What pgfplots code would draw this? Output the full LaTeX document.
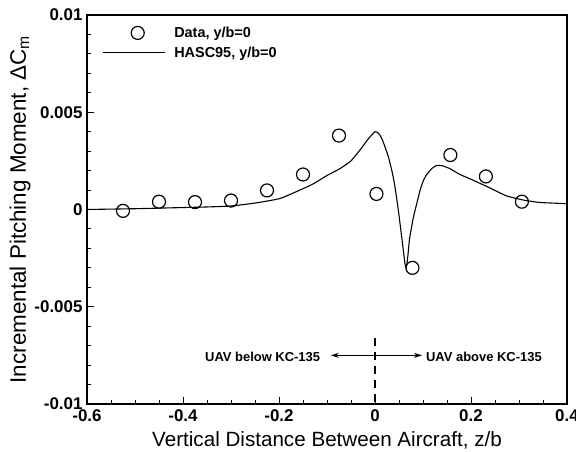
\documentclass[border=0pt]{standalone}
\usepackage{pgfplots}
\pgfplotsset{compat=1.18}
\usetikzlibrary{arrows.meta}
\usepackage{fontspec}
\setmainfont{Liberation Sans}
\begin{document}
\begin{tikzpicture}[x=1bp,y=1bp]
\useasboundingbox (0,0) rectangle (576,452);
\begin{axis}[
  at={(87bp,48bp)}, anchor=south west,
  scale only axis, width=480bp, height=389bp,
  xmin=-0.6, xmax=0.4, ymin=-0.01, ymax=0.01,
  xtick={-0.6,-0.4,-0.2,0,0.2,0.4},
  ytick={-0.01,-0.005,0,0.005,0.01},
  minor x tick num=3, minor y tick num=4,
  xtick pos=bottom, ytick pos=left,
  tick align=inside,
  major tick length=7bp, minor tick length=4bp,
  every tick/.style={black, line width=1pt},
  axis line style={line width=1.6pt},
  scaled y ticks=false, scaled x ticks=false,
  /pgf/number format/assume math mode=true,
  /pgf/number format/fixed, /pgf/number format/precision=3,
  tick label style={font=\bfseries\fontsize{17}{17}\selectfont},
  xticklabel style={yshift=-2bp},
  yticklabel style={xshift=-1bp},
  xlabel={Vertical Distance Between Aircraft, z/b},
  ylabel={Incremental Pitching Moment, ΔC\textsubscript{m}},
  xlabel style={font=\fontsize{20.7}{20.7}\selectfont, yshift=-3bp},
  ylabel style={font=\fontsize{22.5}{22.5}\selectfont, yshift=-3bp},
  legend style={draw=none, fill=none, at={(axis cs:-0.575,0.0096)}, anchor=north west,
    font=\bfseries\fontsize{14.5}{14.5}\selectfont, row sep=4bp,
    nodes={inner xsep=9bp}},
  legend cell align=left,
  legend image code/.code={\draw[mark repeat=2, mark phase=2, #1] plot coordinates {(0bp,0bp)(35bp,0bp)(62bp,0bp)};},
]
\addplot[only marks, mark=o, mark size=6.5bp, mark options={line width=1.2pt, black}] coordinates {
(-0.525,-0.00007) (-0.45,0.0004) (-0.375,0.00038) (-0.3,0.00046)
(-0.225,0.00098) (-0.15,0.0018) (-0.075,0.0038) (0.003,0.0008)
(0.078,-0.003) (0.157,0.0028) (0.231,0.0017) (0.306,0.0004)
};
\addlegendentry{Data, y/b=0}
\addplot[black, line width=1.1pt, smooth, tension=0.3] coordinates {
(-0.6,0.0) (-0.5,0.00004) (-0.45,0.00007) (-0.4,0.0001) (-0.35,0.00013)
(-0.3,0.00018) (-0.25,0.00033) (-0.2,0.00055) (-0.17,0.00085) (-0.13,0.0013)
(-0.1,0.00175) (-0.073,0.0021) (-0.05,0.0025) (-0.03,0.0031) (-0.015,0.0036)
(0.0,0.0040) (0.008,0.0039) (0.015,0.0036) (0.021,0.0032) (0.028,0.0027)
(0.035,0.0020) (0.04,0.0014) (0.045,0.0006) (0.05,-0.0003) (0.053,-0.0009)
(0.058,-0.0019) (0.0625,-0.0028) (0.065,-0.0030) (0.068,-0.0025) (0.072,-0.0015)
(0.08,-0.0004) (0.087,0.0003) (0.094,0.0010) (0.101,0.0015) (0.108,0.0018)
(0.118,0.0021) (0.128,0.00226) (0.14,0.00225) (0.156,0.0021) (0.177,0.0018)
(0.205,0.0015) (0.24,0.0011) (0.274,0.0007) (0.31,0.00048) (0.344,0.00036)
(0.4,0.0003)
};
\addlegendentry{HASC95, y/b=0}
\draw[black, line width=1.1pt, dash pattern=on 8bp off 6bp] (axis cs:0,-0.0066) -- (axis cs:0,-0.01);
\draw[black, line width=0.9pt, -{Stealth[length=8bp,width=5bp]}] (axis cs:0,-0.0075) -- (axis cs:-0.092,-0.0075);
\draw[black, line width=0.9pt, -{Stealth[length=8bp,width=5bp]}] (axis cs:0,-0.0075) -- (axis cs:0.098,-0.0075);
\node[anchor=east, font=\bfseries\fontsize{13}{13}\selectfont, inner sep=0pt] at (axis cs:-0.114,-0.0076) {UAV below KC-135};
\node[anchor=west, font=\bfseries\fontsize{13}{13}\selectfont, inner sep=0pt] at (axis cs:0.106,-0.0076) {UAV above KC-135};
\end{axis}
\end{tikzpicture}
\end{document}
